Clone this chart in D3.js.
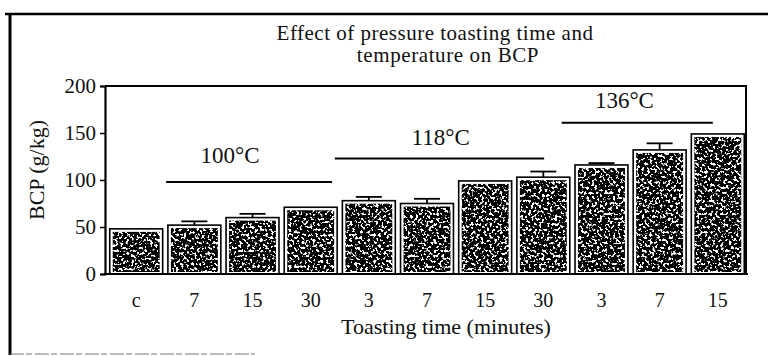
<!DOCTYPE html>
<html>
<head>
<meta charset="utf-8">
<script src="https://cdn.jsdelivr.net/npm/d3@7"></script>
<style>
  body { margin: 0; background: #fff; }
  svg { display: block; }
  text { font-family: "Liberation Serif", "DejaVu Serif", serif; fill: #111; }
</style>
</head>
<body>
<svg id="chart"></svg>
<script>
// Data
const timeLabels = ["c", "7", "15", "30", "3", "7", "15", "30", "3", "7", "15"];
const bcpValues = [48, 52, 60, 71, 78, 75, 99, 103, 116, 132, 149];
const bcpErrors = [0, 4, 4, 0, 4, 5, 0, 6, 2, 7, 0];
const yTicks = [0, 50, 100, 150, 200];

// Temperature groups (span in bar index units, levels in g/kg)
const tempLabels = ["100°C", "118°C", "136°C"];
const tempFrom = [1.0, 3.9, 7.8];
const tempTo = [3.85, 7.5, 10.4];
const tempLevel = [98, 123, 161];
const tempLabelLevel = [118, 137, 177];
const tempLabelAt = [2.1, 5.72, 8.88];

const width = 768;
const height = 356;

const svg = d3.select("#chart")
  .attr("width", width)
  .attr("height", height);

// noisy stipple used inside the bars
const defs = svg.append("defs");
const grain = defs.append("filter")
  .attr("id", "grain")
  .attr("x", 0).attr("y", 0).attr("width", 1).attr("height", 1);
grain.append("feTurbulence")
  .attr("type", "fractalNoise")
  .attr("baseFrequency", 0.38)
  .attr("numOctaves", 2)
  .attr("seed", 7)
  .attr("result", "noise");
grain.append("feColorMatrix")
  .attr("in", "noise")
  .attr("type", "matrix")
  .attr("values", "0 0 0 0 0  0 0 0 0 0  0 0 0 0 0  14 0 0 0 -5.4")
  .attr("result", "specks");
grain.append("feComposite")
  .attr("in", "specks")
  .attr("in2", "SourceGraphic")
  .attr("operator", "in");

// outer frame of the scanned figure
svg.append("line")
  .attr("x1", 5).attr("x2", width).attr("y1", 14).attr("y2", 14)
  .attr("stroke", "#000").attr("stroke-width", 2.5);
svg.append("line")
  .attr("x1", 10).attr("x2", 10).attr("y1", 13).attr("y2", 355)
  .attr("stroke", "#000").attr("stroke-width", 3);
svg.append("line")
  .attr("x1", 10).attr("x2", 255).attr("y1", 354).attr("y2", 354)
  .attr("stroke", "#777").attr("stroke-width", 1.2)
  .attr("stroke-dasharray", "14 2 6 3");

// Title
svg.append("text")
  .attr("x", 435).attr("y", 40)
  .attr("text-anchor", "middle")
  .style("font-size", "21px")
  .style("letter-spacing", "0.5px")
  .text("Effect of pressure toasting time and");
svg.append("text")
  .attr("x", 448).attr("y", 62)
  .attr("text-anchor", "middle")
  .style("font-size", "21px")
  .style("letter-spacing", "0.6px")
  .text("temperature on BCP");

// Scales
const x = d3.scaleBand()
  .domain(d3.range(bcpValues.length))
  .range([108, 746])
  .paddingInner(0.09)
  .paddingOuter(0.03);

const y = d3.scaleLinear()
  .domain([0, 200])
  .range([274, 86]);

const step = x.step();
const xAt = (k) => x.range()[0] + step * k;

// plot box (top and right edges)
svg.append("path")
  .attr("d", `M105,${y(200)}H746V${y(0)}`)
  .attr("fill", "none")
  .attr("stroke", "#000")
  .attr("stroke-width", 2);

// Bars
const bars = svg.append("g");
bars.selectAll("rect.outer")
  .data(bcpValues)
  .join("rect")
  .attr("class", "outer")
  .attr("x", (d, i) => x(i))
  .attr("y", (d) => y(d))
  .attr("width", x.bandwidth())
  .attr("height", (d) => y(0) - y(d))
  .attr("fill", "#fff")
  .attr("stroke", "#000")
  .attr("stroke-width", 1.6);

bars.selectAll("rect.inner")
  .data(bcpValues)
  .join("rect")
  .attr("class", "inner")
  .attr("x", (d, i) => x(i) + 3)
  .attr("y", (d) => y(d) + 3)
  .attr("width", x.bandwidth() - 6)
  .attr("height", (d) => y(0) - y(d) - 5)
  .attr("fill", "#000")
  .attr("filter", "url(#grain)");

// Error bars
const err = svg.append("g")
  .attr("stroke", "#000")
  .attr("stroke-width", 1.8);
bcpValues.forEach((v, i) => {
  if (!bcpErrors[i]) return;
  const cx = x(i) + x.bandwidth() / 2;
  err.append("line")
    .attr("x1", cx).attr("x2", cx)
    .attr("y1", y(v)).attr("y2", y(v + bcpErrors[i]));
  err.append("line")
    .attr("x1", cx - 13).attr("x2", cx + 13)
    .attr("y1", y(v + bcpErrors[i])).attr("y2", y(v + bcpErrors[i]));
});

// Y axis
const yAxis = svg.append("g")
  .attr("transform", "translate(105,0)")
  .call(d3.axisLeft(y).tickValues(yTicks).tickSize(5).tickPadding(4));
yAxis.select(".domain").attr("stroke-width", 2.2);
yAxis.selectAll(".tick line").attr("stroke-width", 1.5);
yAxis.selectAll("text")
  .style("font-family", "'Liberation Serif', serif")
  .style("font-size", "21px")
  .attr("fill", "#111");

// X baseline + labels
svg.append("line")
  .attr("x1", 104).attr("x2", 748)
  .attr("y1", y(0)).attr("y2", y(0))
  .attr("stroke", "#000").attr("stroke-width", 2);

svg.append("g")
  .selectAll("text")
  .data(timeLabels)
  .join("text")
  .attr("x", (d, i) => x(i) + x.bandwidth() / 2)
  .attr("y", 307)
  .attr("text-anchor", "middle")
  .style("font-size", "20px")
  .text((d) => d);

svg.append("text")
  .attr("x", 446).attr("y", 334)
  .attr("text-anchor", "middle")
  .style("font-size", "22px")
  .text("Toasting time (minutes)");

svg.append("text")
  .attr("transform", "translate(44,170) rotate(-90)")
  .attr("text-anchor", "middle")
  .style("font-size", "22px")
  .text("BCP (g/kg)");

// Temperature annotations
const temps = svg.append("g");
tempLabels.forEach((t, i) => {
  temps.append("line")
    .attr("x1", xAt(tempFrom[i])).attr("x2", xAt(tempTo[i]))
    .attr("y1", y(tempLevel[i])).attr("y2", y(tempLevel[i]))
    .attr("stroke", "#000").attr("stroke-width", 2);
  temps.append("text")
    .attr("x", xAt(tempLabelAt[i]))
    .attr("y", y(tempLabelLevel[i]))
    .attr("text-anchor", "middle")
    .style("font-size", "23px")
    .text(t);
});
</script>
</body>
</html>
